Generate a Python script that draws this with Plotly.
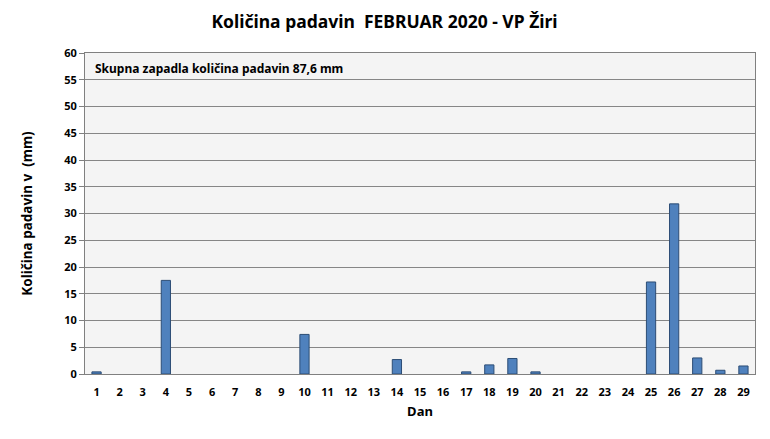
import plotly.graph_objects as go

# Dnevna količina padavin (mm), februar 2020
dnevi = list(range(1, 30))
padavine = [0.4, 0, 0, 17.5, 0, 0, 0, 0, 0, 7.4,
            0, 0, 0, 2.7, 0, 0, 0.4, 1.7, 2.9, 0.4,
            0, 0, 0, 0, 17.2, 31.8, 3.0, 0.7, 1.5]
naslov = "Količina padavin  FEBRUAR 2020 - VP Žiri"
opomba = "Skupna zapadla količina padavin 87,6 mm"
y_ticks = list(range(0, 65, 5))

fnt = "Noto Sans"

# dnevi brez padavin se ne rišejo
y_vals = [v if v > 0 else None for v in padavine]

fig = go.Figure()
fig.add_trace(go.Bar(
    x=dnevi, y=y_vals,
    width=0.4,
    marker=dict(color="#4f81bd", line=dict(color="#2c4d75", width=1)),
))

fig.add_annotation(
    text="<b>" + opomba + "</b>", xref="paper", yref="paper",
    x=0.012, y=0.985, xanchor="left", yanchor="top", showarrow=False,
    font=dict(family=fnt, size=12, color="black"),
)

# stran ima 8 px roba, zato so robovi zamaknjeni
fig.update_layout(
    width=770, height=439,
    margin=dict(l=77, r=23, t=45, b=73, autoexpand=False),
    paper_bgcolor="white",
    plot_bgcolor="#f4f4f4",
    showlegend=False,
    title=dict(text="<b>" + naslov + "</b>", x=0.489, xanchor="center",
               y=0.968, yanchor="middle",
               font=dict(family=fnt, size=17.5, color="black")),
    font=dict(family=fnt, color="black"),
)
fig.update_xaxes(
    tickmode="array", tickvals=dnevi, ticktext=["<b>%d</b>" % d for d in dnevi],
    range=[0.5, 29.5], showgrid=False,
    ticks="outside", ticklen=8, tickcolor="rgba(0,0,0,0)",
    showline=True, linecolor="#808080", linewidth=1, mirror=True,
    automargin=False,
    tickfont=dict(family=fnt, size=11, color="black"),
    title=dict(text="<b>Dan</b>", font=dict(family=fnt, size=13, color="black"), standoff=8),
)
fig.update_yaxes(
    range=[0, 60], tickvals=y_ticks, ticktext=["<b>%d</b>" % v for v in y_ticks],
    showgrid=True, gridcolor="#868686", gridwidth=1,
    ticks="outside", ticklen=5, tickcolor="#808080",
    showline=True, linecolor="#808080", linewidth=1, mirror=True,
    zeroline=False, automargin=False,
    tickfont=dict(family=fnt, size=11, color="black"),
    title=dict(text="<b>Količina padavin v  (mm)</b>", font=dict(family=fnt, size=13.5, color="black"), standoff=28),
)

fig.write_html("out.html")
